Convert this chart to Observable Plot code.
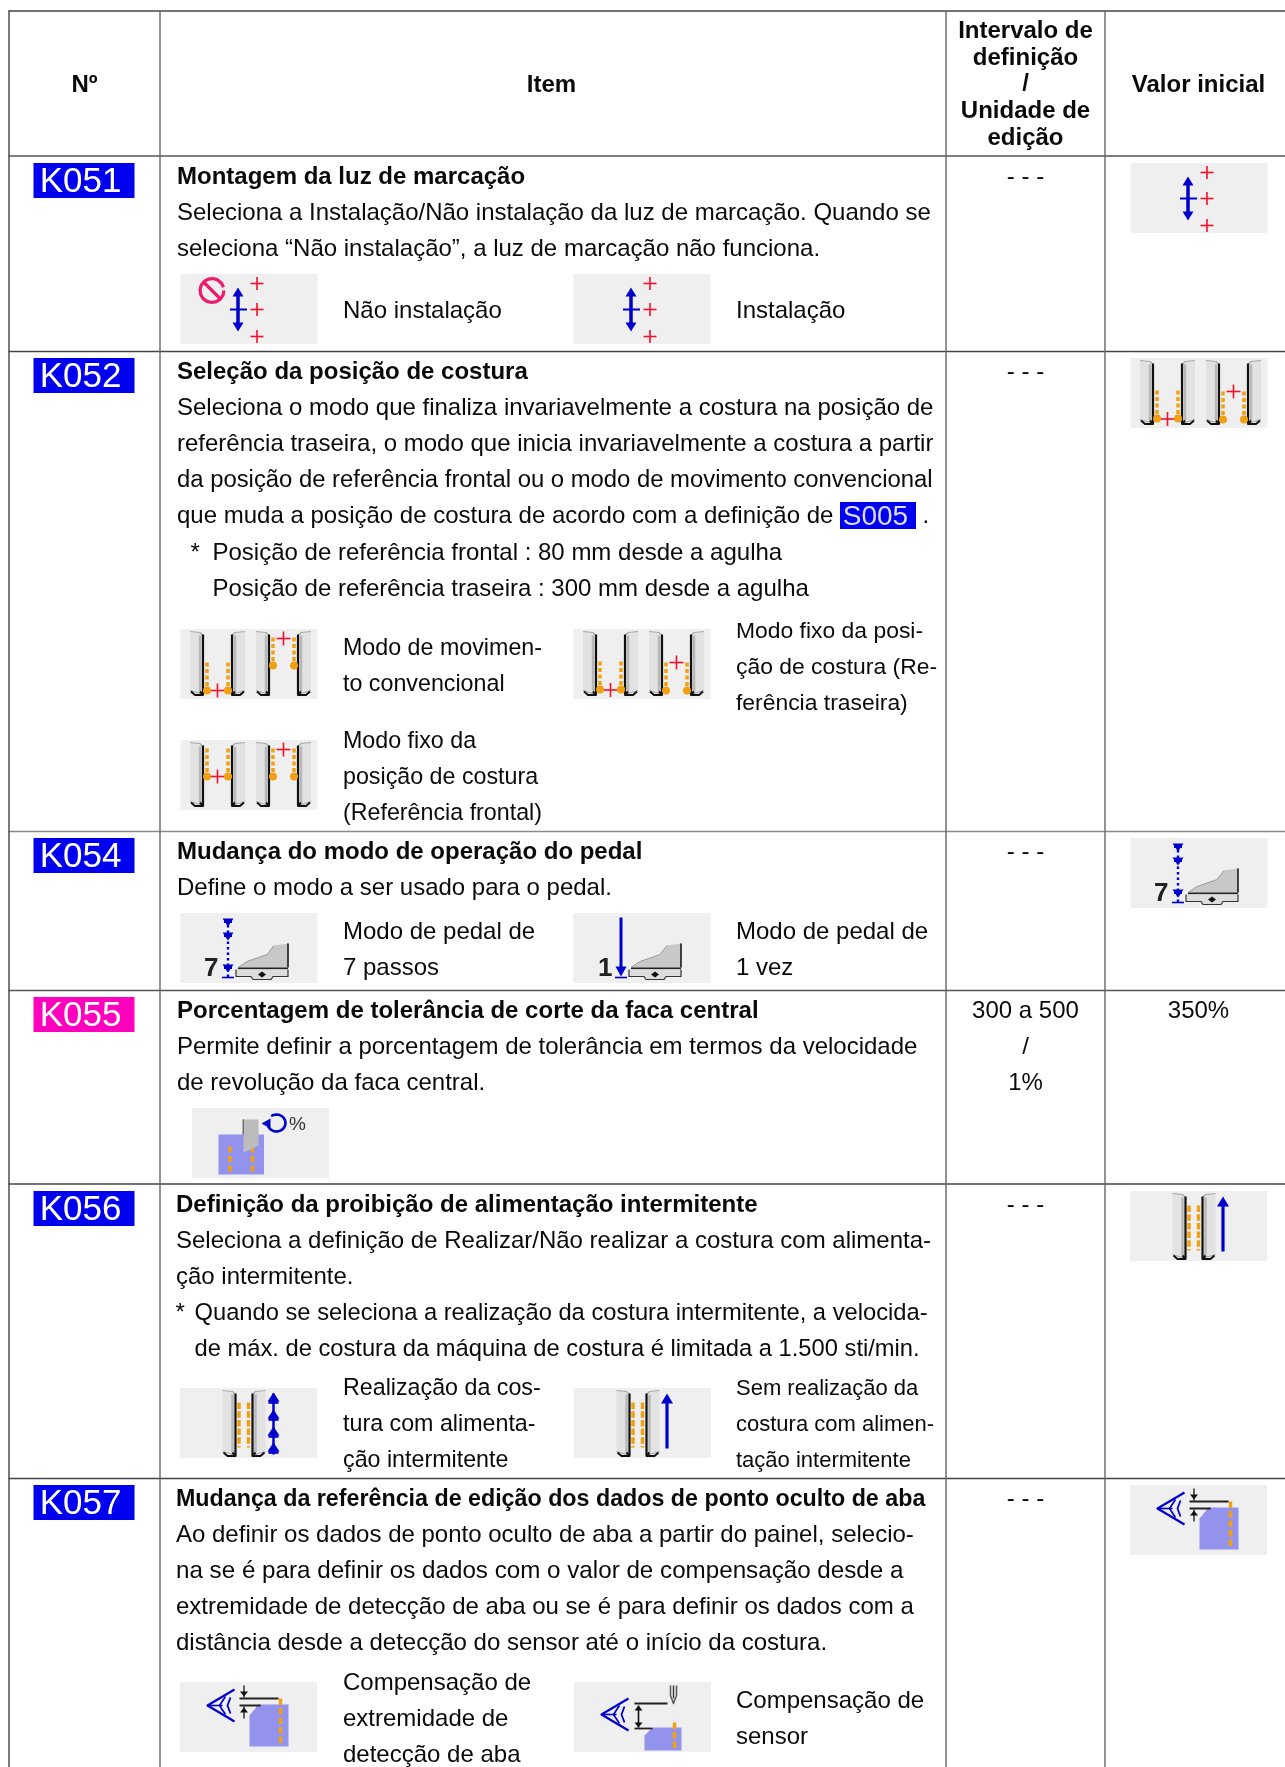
<!DOCTYPE html>
<html><head><meta charset="utf-8">
<script src="https://cdn.jsdelivr.net/npm/d3@7"></script>
<script src="https://cdn.jsdelivr.net/npm/@observablehq/plot@0.6"></script>
<style>
html,body{margin:0;padding:0;background:#fff}
svg{display:block;filter:blur(.35px)}
g[aria-label="tag"] text{letter-spacing:-1px}
g[aria-label="smalltag"] text{letter-spacing:-1px}
</style></head><body><div id="c"></div>
<script>
// ---------- content ----------
const headers = ["Nº", "Item", "Valor inicial"];
const rangeHeader = ["Intervalo de", "definição", "/", "Unidade de", "edição"];
const codes = ["K051", "K052", "K054", "K055", "K056", "K057"];
const codeColours = ["#0000ee", "#0000ee", "#0000ee", "#ff00bf", "#0000ee", "#0000ee"];
const titles = [
  "Montagem da luz de marcação",
  "Seleção da posição de costura",
  "Mudança do modo de operação do pedal",
  "Porcentagem de tolerância de corte da faca central",
  "Definição da proibição de alimentação intermitente",
  "Mudança da referência de edição dos dados de ponto oculto de aba"
];
const k051Body = ["Seleciona a Instalação/Não instalação da luz de marcação. Quando se",
  "seleciona “Não instalação”, a luz de marcação não funciona."];
const k052Body = ["Seleciona o modo que finaliza invariavelmente a costura na posição de",
  "referência traseira, o modo que inicia invariavelmente a costura a partir",
  "da posição de referência frontal ou o modo de movimento convencional",
  "que muda a posição de costura de acordo com a definição de"];
const k052Notes = ["Posição de referência frontal : 80 mm desde a agulha",
  "Posição de referência traseira : 300 mm desde a agulha"];
const k054Body = ["Define o modo a ser usado para o pedal."];
const k055Body = ["Permite definir a porcentagem de tolerância em termos da velocidade",
  "de revolução da faca central."];
const k056Body = ["Seleciona a definição de Realizar/Não realizar a costura com alimenta-", "ção intermitente."];
const k056Notes = ["Quando se seleciona a realização da costura intermitente, a velocida-",
  "de máx. de costura da máquina de costura é limitada a 1.500 sti/min."];
const k057Body = ["Ao definir os dados de ponto oculto de aba a partir do painel, selecio-",
  "na se é para definir os dados com o valor de compensação desde a",
  "extremidade de detecção de aba ou se é para definir os dados com a",
  "distância desde a detecção do sensor até o início da costura."];
const labelK051 = [["Não instalação"], ["Instalação"]];
const labelK052 = [["Modo de movimen-", "to convencional"], ["Modo fixo da posi-", "ção de costura (Re-", "ferência traseira)"], ["Modo fixo da", "posição de costura", "(Referência frontal)"]];
const labelK054 = [["Modo de pedal de", "7 passos"], ["Modo de pedal de", "1 vez"]];
const labelK056 = [["Realização da cos-", "tura com alimenta-", "ção intermitente"], ["Sem realização da", "costura com alimen-", "tação intermitente"]];
const labelK057 = [["Compensação de", "extremidade de", "detecção de aba"], ["Compensação de", "sensor"]];
const rangeValues = ["- - -", "- - -", "- - -", ["300 a 500", "/", "1%"], "- - -", "- - -"];
const initialValue = "350%";
const inlineCode = "S005";

// ---------- layout ----------
const W = 1285, H = 1767, FS = 24, LFS = 23.25, LH = 36;
const colEdges = [8.5, 159.5, 945.5, 1104.5];
const rowEdges = [10.5, 155.5, 351, 831, 990, 1183.5, 1478];
const rowEdgeColour = ["#444", "#555", "#444", "#888", "#555", "#444", "#444"];
const titleY = [176, 371, 851, 1010, 1204, 1498];
const tagY = [163, 358, 838, 997, 1191, 1485];
const textX = [176.5, 176.5, 176.5, 176.5, 175.5, 175.5];
const titleSize = [24, 24, 24, 24, 24, 23.25];
const leftIcon = 180.5, rightIcon = 573.5, valIcon = 1130.5, labL = 342.5, labR = 735.5;

const texts = [], centred = [], bold = [], boldCentred = [], tags = [];
const put = (t, x, y, fs = FS) => texts.push({t, x, y, fs});
const putC = (t, x, y) => centred.push({t, x, y, fs: FS});
const many = (ls, x, y, fs = FS) => ls.forEach((t, i) => put(t, x, y + i * LH, Array.isArray(fs) ? fs[i] : fs));

boldCentred.push({t: headers[0], x: 84, y: 84, fs: 24}, {t: headers[1], x: 551, y: 84, fs: 24}, {t: headers[2], x: 1198, y: 84, fs: 24});
rangeHeader.forEach((t, i) => boldCentred.push({t, x: 1025, y: [30, 57, 83, 110, 137][i], fs: 24}));
titles.forEach((t, i) => {
  bold.push({t, x: textX[i], y: titleY[i], fs: titleSize[i]});
  tags.push({t: codes[i], x: 84, y: tagY[i], c: codeColours[i], w: 101, h: 35});
  const r = rangeValues[i];
  if (Array.isArray(r)) r.forEach((s, j) => putC(s, 1025, titleY[i] + j * LH));
  else putC(r, 1025, titleY[i]);
});
putC(initialValue, 1198, titleY[3]);
many(k051Body, 176.5, 212);
many(k052Body, 176.5, 407, [24, 24, 23.85, 24]);
put(".", 922, 515);
put("*", 190, 552);
many(k052Notes, 212, 552);
many(k054Body, 176.5, 887);
many(k055Body, 176.5, 1046);
many(k056Body, 175.5, 1240);
put("*", 175, 1312);
many(k056Notes, 194, 1312, 23.72);
many(k057Body, 175.5, 1534, [24, 24.2, 24, 24]);
put(labelK051[0][0], labL, 310); put(labelK051[1][0], labR, 310);
many(labelK052[0], labL, 647, LFS); many(labelK052[1], labR, 630, 22.9); many(labelK052[2], labL, 740, LFS);
many(labelK054[0], labL, 931); many(labelK054[1], labR, 931);
many(labelK056[0], labL, 1387, LFS); many(labelK056[1], labR, 1387, 22);
many(labelK057[0], labL, 1682); many(labelK057[1], labR, 1700);
tags.push({t: inlineCode, x: 878, y: 502, c: "#0000ee", w: 76, h: 27, small: true});

// ---------- icon primitives (drawn in a 137×70 local box) ----------
const buckets = new Map(); let sid = 0;
const iconBoxes = [], stitchEnds = [];
function shape(ox, oy, pts, {stroke = "none", fill = "none", sw = 1, dash = null} = {}) {
  const k = [stroke, fill, sw, dash].join("|");
  if (!buckets.has(k)) buckets.set(k, {stroke, fill, sw, dash, rows: []});
  const id = sid++;
  pts.forEach(p => buckets.get(k).rows.push({x: ox + p[0], y: oy + p[1], id}));
}
const BLUE = "#0000cc", RED = "#f5102a", ORANGE = "#f0a010", LAV = "#9393ee";
function box(ox, oy) { iconBoxes.push({x: ox, y: oy}); }
function plus(ox, oy, x, y, r = 6.5) {
  shape(ox, oy, [[x - r, y], [x + r, y]], {stroke: RED, sw: 1.6});
  shape(ox, oy, [[x, y - r], [x, y + r]], {stroke: RED, sw: 1.6});
}
function head(ox, oy, x, y, dir, w = 5, h = 8) {
  shape(ox, oy, [[x - w, y], [x, y + dir * h], [x + w, y]], {fill: BLUE});
}
function dblArrow(ox, oy, x) {
  shape(ox, oy, [[x, 18], [x, 52]], {stroke: BLUE, sw: 3.5});
  head(ox, oy, x, 22, -1, 5.5, 9); head(ox, oy, x, 48, 1, 5.5, 9);
  shape(ox, oy, [[x - 8, 35], [x + 9, 35]], {stroke: BLUE, sw: 2});
}
function markerIcon(ox, oy, prohibited) {
  box(ox, oy);
  dblArrow(ox, oy, 57);
  [9, 35, 62].forEach(y => plus(ox, oy, 76, y));
  if (prohibited) {
    const c = d3.range(0, 6.4, .4).map(a => [31 + 12 * Math.cos(a), 16 + 12 * Math.sin(a)]);
    shape(ox, oy, c, {stroke: "#ee1a6e", sw: 3.2});
    shape(ox, oy, [[23, 8], [39, 24]], {stroke: "#ee1a6e", sw: 3.2});
  }
}
function wall(ox, oy, x, side, y0 = 2, y1 = 67) { // side 1: black edge on the right
  const a = side > 0 ? x : x + 13, b = side > 0 ? x + 13 : x;
  shape(ox, oy, [[a, y0], [b - side * 3, y0 + 1], [b, y0 + 4], [b, y1 - 2], [a, y1 - 6]], {fill: "#e2e2e2", stroke: "#a8a8a8", sw: 1.2});
  shape(ox, oy, [[b - side * 3, y0 + 4], [b - side * 3, y1 - 5]], {stroke: "#b8b8b8", sw: 2.5});
  shape(ox, oy, [[b, y0 + 3], [b, y1 - 2]], {stroke: "#111", sw: 2.2});
  shape(ox, oy, [[a + side, y1 - 5], [a + side * 5, y1 - 1.5], [b, y1 - 1.5], [b - side * 3, y1 - 5]], {stroke: "#111", sw: 2});
}
function stitchPanel(ox, oy, xa, top, plusY) {
  [xa, xa + 21].forEach(x => {
    shape(ox, oy, [[x, top], [x, top + 27]], {stroke: ORANGE, sw: 3.5, dash: "4,2.5"});
    stitchEnds.push({x: ox + x, y: oy + top + 28});
  });
  plus(ox, oy, xa + 10.5, plusY, 7);
}
function frameIcon(ox, oy, p1, p2, plus1, plus2) {
  box(ox, oy);
  wall(ox, oy, 9, 1); wall(ox, oy, 51, -1); wall(ox, oy, 75, 1); wall(ox, oy, 117, -1);
  stitchPanel(ox, oy, 26, p1, plus1);
  stitchPanel(ox, oy, 92, p2, plus2);
}
function pedal(ox, oy) {
  shape(ox, oy, [[107, 30], [107, 54], [57, 54], [66, 48], [86, 41], [93, 32]], {fill: "#c8c8c8", stroke: "#9a9a9a", sw: 1});
  shape(ox, oy, [[107, 30], [107, 54]], {stroke: "#222", sw: 1.6});
  shape(ox, oy, [[57, 55], [107, 55]], {stroke: "#222", sw: 1.4});
  shape(ox, oy, [[55, 56], [55, 63], [70, 63], [72, 66], [90, 66], [92, 63], [107, 63], [107, 56]], {fill: "#dcdcdc", stroke: "#333", sw: 1.2});
  shape(ox, oy, [[77, 61], [81, 58], [85, 61], [81, 64]], {fill: "#111"});
}
const glyphs = [], percent = [];
function pedal7(ox, oy) {
  box(ox, oy); pedal(ox, oy);
  shape(ox, oy, [[47, 6], [47, 64]], {stroke: BLUE, sw: 2.4, dash: "2.5,3"});
  [5, 19, 51].forEach(y => { head(ox, oy, 47, y, 1, 5.5, 8); shape(ox, oy, [[43, y + 3], [51, y + 3]], {stroke: BLUE, sw: 3}); });
  shape(ox, oy, [[41, 64], [53, 64]], {stroke: BLUE, sw: 1.6});
  glyphs.push({t: "7", x: ox + 23, y: oy + 54});
}
function pedal1(ox, oy) {
  box(ox, oy); pedal(ox, oy);
  shape(ox, oy, [[47, 4], [47, 56]], {stroke: BLUE, sw: 3});
  head(ox, oy, 47, 53, 1, 5.5, 10);
  shape(ox, oy, [[41, 64], [53, 64]], {stroke: BLUE, sw: 1.6});
  glyphs.push({t: "1", x: ox + 24, y: oy + 54});
}
function knifeIcon(ox, oy) {
  box(ox, oy);
  shape(ox, oy, [[26, 26], [71.5, 26], [71.5, 66], [26, 66]], {fill: LAV});
  [37.5, 60].forEach(x => shape(ox, oy, [[x, 38], [x, 66]], {stroke: ORANGE, sw: 3.5, dash: "6,3.5"}));
  shape(ox, oy, [[51, 11], [66, 11], [66, 37], [58, 41], [51, 44]], {fill: "#bcbcbc"});
  shape(ox, oy, [[51, 11], [51, 44], [58, 41], [66, 37]], {stroke: "#222", sw: 1.6});
  shape(ox, oy, [[47, 38], [47, 56]], {stroke: "#222", sw: 1.6});
  const c = d3.range(-2.2, 3.4, .3).map(a => [84 + 9 * Math.cos(a), 14.5 + 8.5 * Math.sin(a)]);
  shape(ox, oy, c, {stroke: BLUE, sw: 2.6});
  shape(ox, oy, [[69, 15], [78, 10], [78, 20]], {fill: BLUE});
  percent.push({t: "%", x: ox + 96.5, y: oy + 15});
}
function feedWalls(ox, oy) {
  box(ox, oy);
  wall(ox, oy, 42, 1, 2, 69); wall(ox, oy, 72, -1, 2, 69);
  [58.5, 68].forEach(x => shape(ox, oy, [[x, 14], [x, 59]], {stroke: ORANGE, sw: 3.5, dash: "6.5,2.2"}));
}
function intermittentIcon(ox, oy) {
  feedWalls(ox, oy);
  shape(ox, oy, [[93, 5], [93, 66]], {stroke: BLUE, sw: 2.5});
  [13, 30, 47, 63].forEach(y => { head(ox, oy, 93, y, -1, 6, 9); shape(ox, oy, [[88, y + 1], [98, y + 1]], {stroke: BLUE, sw: 2.6}); });
}
function upArrowIcon(ox, oy) {
  feedWalls(ox, oy);
  shape(ox, oy, [[92.5, 14], [92.5, 60]], {stroke: BLUE, sw: 3.2});
  head(ox, oy, 92.5, 15, -1, 6, 10);
}
function eye(ox, oy, cy) {
  shape(ox, oy, [[54, cy - 16], [27, cy], [54, cy + 16]], {stroke: BLUE, sw: 2.2});
  shape(ox, oy, [[45, cy - 9], [39, cy], [45, cy + 9]], {stroke: BLUE, sw: 1.6});
  shape(ox, oy, [[50, cy - 8], [47, cy], [50, cy + 8]], {stroke: BLUE, sw: 1.8});
  shape(ox, oy, [[27, cy], [42, cy]], {stroke: BLUE, sw: 1.6});
}
function blackArrow(ox, oy, x, y, dir) { // small black tick arrow
  shape(ox, oy, [[x - 4, y], [x, y + dir * 5], [x + 4, y]], {fill: "#111"});
}
function edgeIcon(ox, oy) {
  box(ox, oy); eye(ox, oy, 23);
  shape(ox, oy, [[78, 22], [108, 22], [108, 64], [69, 64], [69, 33]], {fill: LAV});
  shape(ox, oy, [[100, 16], [100, 62]], {stroke: ORANGE, sw: 3.5, dash: "6.5,3"});
  shape(ox, oy, [[59, 16], [98, 16]], {stroke: "#222", sw: 2});
  shape(ox, oy, [[59, 23], [80, 23]], {stroke: "#222", sw: 2});
  shape(ox, oy, [[63.5, 3], [63.5, 15]], {stroke: "#222", sw: 1.4});
  blackArrow(ox, oy, 63.5, 9, 1);
  shape(ox, oy, [[63.5, 24], [63.5, 36]], {stroke: "#222", sw: 1.4});
  blackArrow(ox, oy, 63.5, 30, -1);
}
function sensorIcon(ox, oy) {
  box(ox, oy); eye(ox, oy, 32);
  shape(ox, oy, [[78, 45], [107, 45], [107, 68], [70, 68], [70, 53]], {fill: LAV});
  shape(ox, oy, [[100, 40], [100, 68]], {stroke: ORANGE, sw: 3.5, dash: "6.5,3"});
  shape(ox, oy, [[60, 21], [93, 21]], {stroke: "#222", sw: 1.8});
  shape(ox, oy, [[60, 46], [78, 46]], {stroke: "#222", sw: 1.8});
  shape(ox, oy, [[64, 23], [64, 45]], {stroke: "#111", sw: 1.6});
  blackArrow(ox, oy, 64, 28, -1); blackArrow(ox, oy, 64, 40, 1);
  shape(ox, oy, [[96, 3], [96, 13], [99, 21], [102, 13], [102, 3]], {stroke: "#555", sw: 1.5});
  shape(ox, oy, [[99, 3], [99, 16]], {stroke: "#333", sw: 1.4});
}

// ---------- icons in place ----------
markerIcon(valIcon, 163, false);
markerIcon(leftIcon, 274, true);
markerIcon(rightIcon, 274, false);
frameIcon(valIcon, 358, 32, 33, 60.5, 33);
frameIcon(leftIcon, 629, 33, 8, 61, 9);
frameIcon(rightIcon, 629, 32, 33, 60.5, 33);
frameIcon(leftIcon, 740, 8, 8, 36, 9);
pedal7(valIcon, 838);
pedal7(leftIcon, 913);
pedal1(rightIcon, 913);
knifeIcon(192, 1108);
upArrowIcon(1130, 1191);
intermittentIcon(180, 1388);
upArrowIcon(574, 1388);
edgeIcon(1130, 1485);
edgeIcon(180, 1682);
sensorIcon(574, 1682);

// ---------- plot ----------
const font = "Liberation Sans";
const marks = [
  Plot.ruleY(rowEdges.map((y, i) => ({y, c: rowEdgeColour[i]})), {y: "y", x1: colEdges[0], x2: W, stroke: "c", strokeWidth: 1.6}),
  Plot.ruleX(colEdges, {x: d => d, y1: rowEdges[0], y2: H, stroke: (d, i) => i === 0 ? "#444" : "#666", strokeWidth: 1.4}),
  Plot.rect(tags, {x1: d => d.x - d.w / 2, x2: d => d.x + d.w / 2, y1: "y", y2: d => d.y + d.h, fill: "c"}),
  Plot.text(tags.filter(d => !d.small), {ariaLabel: "tag", text: "t", x: d => d.x - 4, y: d => d.y + 17.5, fill: "white", fontSize: 35, fontFamily: font, textAnchor: "middle", lineAnchor: "middle"}),
  Plot.text(tags.filter(d => d.small), {ariaLabel: "smalltag", text: "t", x: d => d.x - 3, y: d => d.y + 13.5, fill: "#dcdcff", fontSize: 28, fontFamily: font, textAnchor: "middle", lineAnchor: "middle"}),
  Plot.rect(iconBoxes, {x1: "x", x2: d => d.x + 137, y1: "y", y2: d => d.y + 70, fill: "#efefef"})
];
for (const b of buckets.values()) {
  marks.push(Plot.line(b.rows, {x: "x", y: "y", z: "id", stroke: b.stroke, fill: b.fill, strokeWidth: b.sw, strokeDasharray: b.dash || undefined, curve: "linear", strokeLinecap: "butt"}));
}
const tx = {text: "t", x: "x", y: "y", fontSize: d => d.fs, fontFamily: font, fill: "#0a0a0a", lineAnchor: "middle"};
marks.push(
  Plot.dot(stitchEnds, {x: "x", y: "y", r: 4, fill: ORANGE}),
  Plot.text(glyphs, {text: "t", x: "x", y: "y", textAnchor: "start", fontSize: 26, fontWeight: 700, fontFamily: font, fill: "#222", lineAnchor: "middle"}),
  Plot.text(percent, {text: "t", x: "x", y: "y", textAnchor: "start", fontSize: 19, fontFamily: font, fill: "#333", lineAnchor: "middle"}),
  Plot.text(texts, {...tx, textAnchor: "start"}),
  Plot.text(centred, {...tx, textAnchor: "middle"}),
  Plot.text(bold, {...tx, textAnchor: "start", fontWeight: 700}),
  Plot.text(boldCentred, {...tx, textAnchor: "middle", fontWeight: 700})
);
const svg = Plot.plot({
  width: W, height: H, margin: 0,
  x: {domain: [0, W], range: [0, W], axis: null},
  y: {domain: [0, H], range: [0, H], axis: null},
  style: {background: "white"},
  marks
});
document.getElementById("c").append(svg);
</script></body></html>
